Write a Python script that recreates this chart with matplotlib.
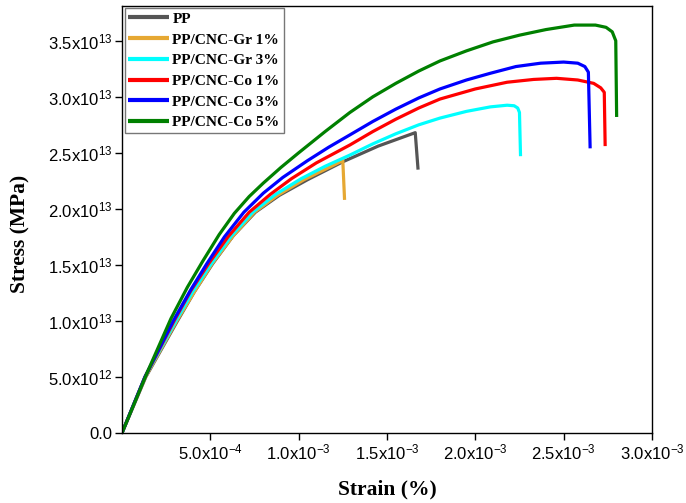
import matplotlib

matplotlib.use("Agg")
import matplotlib.pyplot as plt
from matplotlib.ticker import FixedLocator, FuncFormatter
import numpy as np

# strain in units of 1e-3, stress in units of 1e13
PP_STRAIN = [0, 0.135, 0.314, 0.41, 0.513, 0.63, 0.755, 0.89, 1.05, 1.25, 1.45, 1.66, 1.676]
PP_STRESS = [0, 0.5, 1.0, 1.26, 1.51, 1.76, 1.97, 2.12, 2.26, 2.42, 2.56, 2.68, 2.35]

GR1_STRAIN = [0, 0.133, 0.31, 0.41, 0.51, 0.63, 0.75, 0.88, 1.03, 1.25, 1.26]
GR1_STRESS = [0, 0.5, 1.0, 1.26, 1.51, 1.76, 1.97, 2.12, 2.26, 2.43, 2.08]

GR3_STRAIN = [0, 0.13, 0.305, 0.40, 0.505, 0.62, 0.74, 0.87, 1.015, 1.15, 1.29,
              1.42, 1.55, 1.68, 1.80, 1.95, 2.085, 2.18, 2.22, 2.24, 2.25, 2.256]
GR3_STRESS = [0, 0.5, 1.0, 1.26, 1.51, 1.76, 1.97, 2.13, 2.27, 2.38, 2.48,
              2.58, 2.67, 2.75, 2.81, 2.87, 2.91, 2.925, 2.92, 2.90, 2.86, 2.47]

CO1_STRAIN = [0, 0.13, 0.295, 0.39, 0.49, 0.60, 0.72, 0.84, 0.96, 1.10, 1.29, 1.42,
              1.55, 1.68, 1.80, 2.0, 2.18, 2.33, 2.46, 2.58, 2.67, 2.71, 2.73, 2.735]
CO1_STRESS = [0, 0.5, 1.0, 1.27, 1.51, 1.75, 1.97, 2.13, 2.27, 2.41, 2.57, 2.69,
              2.80, 2.90, 2.98, 3.07, 3.13, 3.155, 3.165, 3.15, 3.12, 3.08, 3.04, 2.56]

CO3_STRAIN = [0, 0.13, 0.29, 0.39, 0.48, 0.58, 0.69, 0.80, 0.91, 1.05, 1.17, 1.29, 1.42,
              1.55, 1.68, 1.80, 1.95, 2.085, 2.23, 2.37, 2.50, 2.58, 2.62, 2.64, 2.65]
CO3_STRESS = [0, 0.5, 1.0, 1.28, 1.51, 1.75, 1.97, 2.14, 2.28, 2.43, 2.55, 2.66, 2.78,
              2.89, 2.99, 3.07, 3.15, 3.21, 3.27, 3.30, 3.31, 3.30, 3.27, 3.22, 2.54]

CO5_STRAIN = [0, 0.14, 0.277, 0.37, 0.456, 0.55, 0.636, 0.72, 0.80, 0.90, 1.0, 1.15, 1.29,
              1.42, 1.55, 1.68, 1.80, 1.95, 2.10, 2.25, 2.40, 2.56, 2.68, 2.74, 2.775,
              2.795, 2.80]
CO5_STRESS = [0, 0.53, 1.02, 1.30, 1.53, 1.77, 1.96, 2.11, 2.23, 2.37, 2.50, 2.69, 2.86,
              3.00, 3.12, 3.23, 3.32, 3.41, 3.49, 3.55, 3.60, 3.64, 3.64, 3.62, 3.58,
              3.50, 2.82]

SERIES = (
    ("PP", PP_STRAIN, PP_STRESS, "#555555"),
    ("PP/CNC-Gr 1%", GR1_STRAIN, GR1_STRESS, "#E6A833"),
    ("PP/CNC-Gr 3%", GR3_STRAIN, GR3_STRESS, "#00FFFF"),
    ("PP/CNC-Co 1%", CO1_STRAIN, CO1_STRESS, "#FF0000"),
    ("PP/CNC-Co 3%", CO3_STRAIN, CO3_STRESS, "#0000FF"),
    ("PP/CNC-Co 5%", CO5_STRAIN, CO5_STRESS, "#008000"),
)

Y_TICKS = [0.0, 0.5e13, 1.0e13, 1.5e13, 2.0e13, 2.5e13, 3.0e13, 3.5e13]
X_TICKS = [0.5e-3, 1.0e-3, 1.5e-3, 2.0e-3, 2.5e-3, 3.0e-3]


def sci_label(value, _pos=None):
    if value == 0:
        return "0.0"
    exponent = int(np.floor(np.log10(abs(value)) + 1e-9))
    mantissa = value / 10**exponent
    return f"{mantissa:.1f}x10$^{{{exponent}}}$"


plt.rcParams.update(
    {
        "font.family": "Liberation Sans",
        "mathtext.default": "regular",
        "axes.unicode_minus": False,
        "axes.linewidth": 1.0,
    }
)

fig = plt.figure(figsize=(6.86, 5.03), dpi=100)
ax = fig.add_axes([0.1778, 0.1392, 0.7726, 0.8488])

for label, strain, stress, color in SERIES:
    ax.plot(
        np.array(strain) * 1e-3,
        np.array(stress) * 1e13,
        color=color,
        linewidth=2.3,
        solid_joinstyle="round",
        solid_capstyle="butt",
        label=label,
    )

ax.set_xlim(0, 3.0e-3)
ax.set_ylim(0, 3.81e13)
ax.xaxis.set_major_locator(FixedLocator(X_TICKS))
ax.yaxis.set_major_locator(FixedLocator(Y_TICKS))
ax.xaxis.set_major_formatter(FuncFormatter(sci_label))
ax.yaxis.set_major_formatter(FuncFormatter(sci_label))
ax.tick_params(direction="out", length=5, width=1.0, labelsize=12, pad=2)

label_font = {"family": "Liberation Serif", "weight": "bold", "size": 15.5}
ax.set_xlabel("Strain (%)", fontdict=label_font, labelpad=12)
ax.set_ylabel("Stress (MPa)", fontdict=label_font)
ax.yaxis.set_label_coords(-0.172, 0.466)

legend = ax.legend(
    loc="upper left",
    bbox_to_anchor=(0.005, 0.995),
    prop={"family": "Liberation Serif", "weight": "bold", "size": 11.1},
    frameon=True,
    fancybox=False,
    borderpad=0.25,
    labelspacing=0.45,
    handlelength=2.6,
    handletextpad=0.25,
    borderaxespad=0.0,
)
legend.get_frame().set_edgecolor("#555555")
legend.get_frame().set_linewidth(1.0)
for line in legend.get_lines():
    line.set_linewidth(3.0)

fig.savefig("out.png", dpi=100)
plt.close(fig)
